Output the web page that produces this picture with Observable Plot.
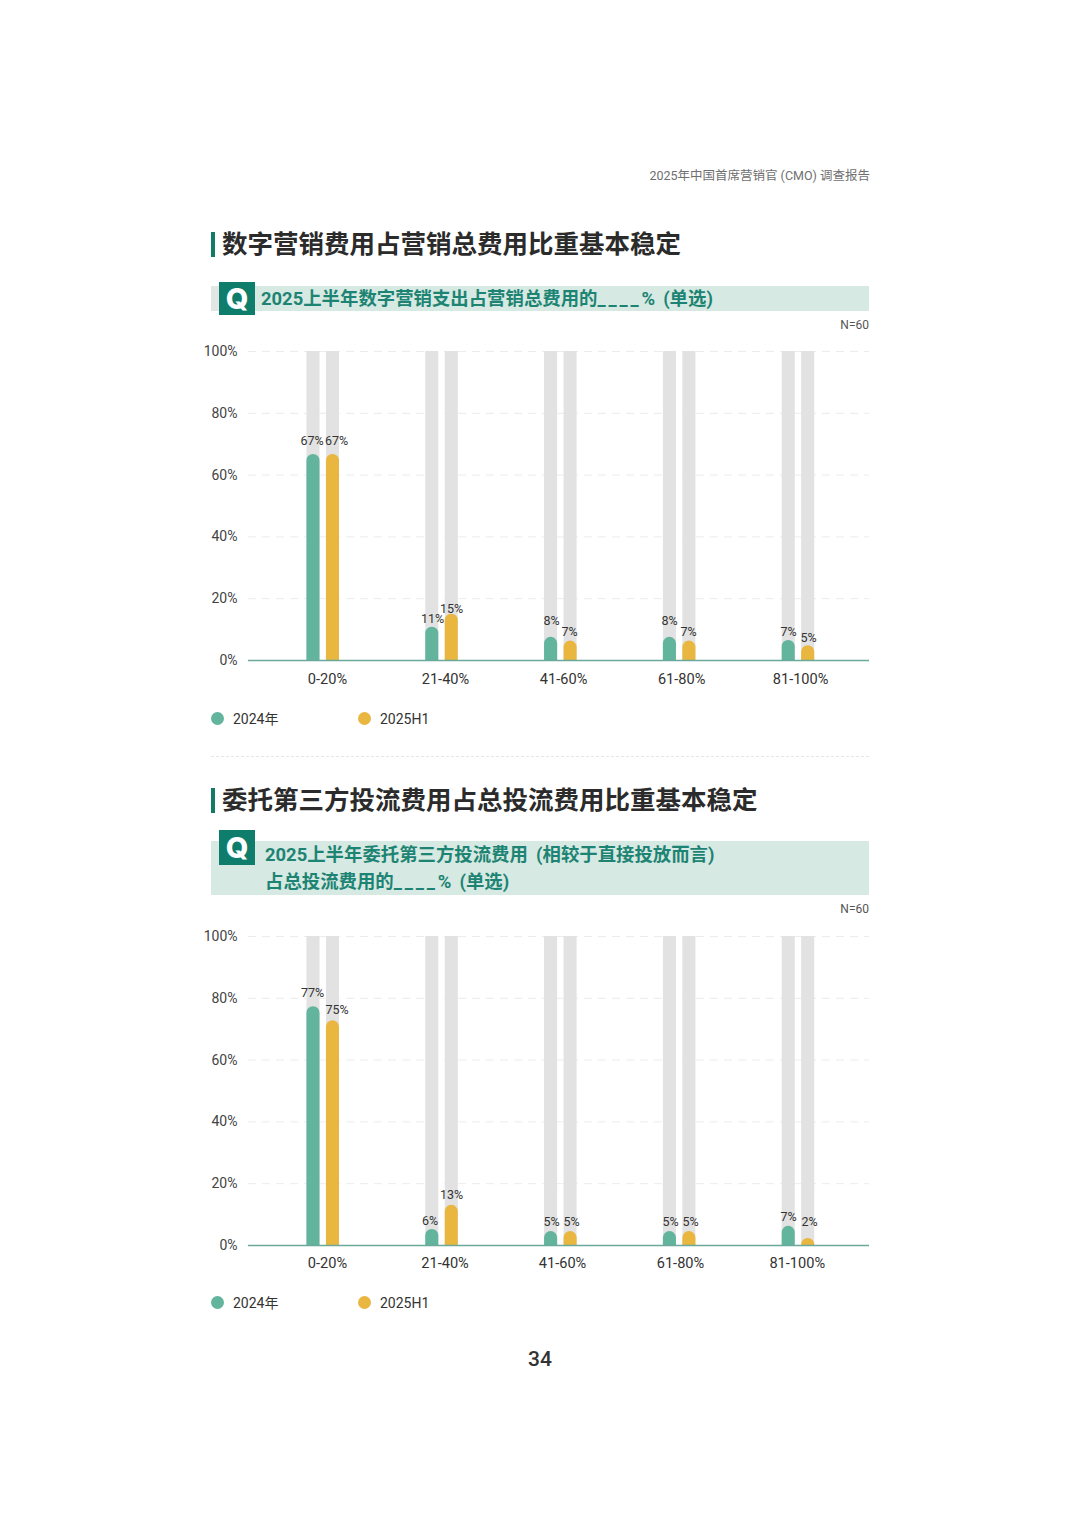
<!DOCTYPE html>
<html><head><meta charset="utf-8">
<script src="https://cdn.jsdelivr.net/npm/d3@7"></script>
<script src="https://cdn.jsdelivr.net/npm/@observablehq/plot@0.6"></script>
<style>
html,body{margin:0;padding:0;background:#fff}
#page{position:relative;width:1080px;height:1527px;overflow:hidden;font-family:Roboto,"Noto Sans CJK SC",sans-serif;color:#333}
#page>*{position:absolute}
.t{white-space:nowrap;line-height:1}
.title{left:222px;font:700 25.5px "Noto Sans CJK SC",sans-serif;color:#2b2b2b;white-space:nowrap;line-height:1}
.mark{left:211px;width:4px;background:#127a65}
.band{left:211px;width:658px;background:#d7e9e3}
.q{left:219px;width:36px;background:#0f7d6c;color:#fff;text-align:center;font:800 29px Inter,sans-serif}
.sub{font:700 18.4px Roboto,"Noto Sans CJK SC",sans-serif;color:#1d8473;white-space:nowrap;line-height:1;word-spacing:3.6px}
.sub span{letter-spacing:2.8px}
.n{right:211px;font-size:12px;color:#555;line-height:1}
.dot{width:13px;height:13px;border-radius:50%}
.lg{font-size:14px;color:#333;line-height:1;white-space:nowrap}
</style></head><body><div id="page"></div>
<script>
const categories = ["0-20%","21-40%","41-60%","61-80%","81-100%"];
const seriesNames = ["2024年","2025H1"];
const colors = ["#62b49c","#e9b63f"];
const yTicks = [0,20,40,60,80,100];

const title1 = "数字营销费用占营销总费用比重基本稳定";
const labels1a = [67,11,8,8,7];
const labels1b = [67,15,7,7,5];
const bars1a = [66.7,10.8,7.5,7.5,6.5];
const bars1b = [66.7,15,6.3,6.3,4.8];
const labelY1a = [70.9,13.3,12.9,12.9,9.1];
const labelY1b = [70.9,16.8,9.1,9.1,7.4];
const labelX1a = [-0.094,-0.08,-0.078,-0.085,-0.083];
const labelX1b = [0.112,0.08,0.073,0.075,0.085];
const catX1 = [0.036,1.029,2.023,3.017,4.018];

const title2 = "委托第三方投流费用占总投流费用比重基本稳定";
const labels2a = [77,6,5,5,7];
const labels2b = [75,13,5,5,2];
const bars2a = [77.3,5.2,4.5,4.5,6.2];
const bars2b = [72.7,13,4.5,4.5,2.3];
const labelY2a = [81.8,7.8,7.5,7.5,9.1];
const labelY2b = [76.3,16.2,7.5,7.5,7.5];
const labelX2a = [-0.09,-0.101,-0.078,-0.077,-0.083];
const labelX2b = [0.116,0.08,0.09,0.092,0.093];
const catX2 = [0.036,1.025,2.014,3.007,3.99];

const barOffset = 0.082, barHalf = 0.055;
const font = 'Roboto,"Noto Sans CJK SC",sans-serif';

function chart(labelsA,labelsB,barsA,barsB,lyA,lyB,lxA,lxB,catX,catPad){
  const rows = categories.flatMap((c,i)=>[
    {i,s:-1,bar:barsA[i],label:labelsA[i],ly:lyA[i],lx:i+lxA[i],c:colors[0]},
    {i,s:1,bar:barsB[i],label:labelsB[i],ly:lyB[i],lx:i+lxB[i],c:colors[1]}
  ]);
  const x1 = d=>d.i+d.s*barOffset-barHalf, x2 = d=>d.i+d.s*barOffset+barHalf;
  return Plot.plot({
    width:1080,height:370,marginLeft:248,marginRight:211,marginTop:20,marginBottom:41,
    style:{fontFamily:font,background:"transparent"},
    x:{domain:[-0.629,4.598]},
    y:{domain:[0,100]},
    marks:[
      Plot.ruleY(yTicks.filter(d=>d>0),{stroke:"#ececec",strokeDasharray:"8 6",strokeWidth:1}),
      Plot.rectY(rows,{x1,x2,y1:0,y2:100,fill:"#e2e2e2"}),
      Plot.rectY(rows,{x1,x2,y1:0,y2:"bar",fill:"c",rx1y2:6.5,rx2y2:6.5}),
      Plot.ruleY([0],{stroke:"#6aa99b",strokeWidth:1.6}),
      Plot.text(rows,{x:"lx",y:"ly",text:d=>d.label+"%",fontSize:12.5,fill:"#333"}),
      Plot.axisY({ticks:yTicks,tickSize:0,tickPadding:11,fontSize:14,tickFormat:d=>d+"%",label:null,fill:"#444"}),
      Plot.axisX({ticks:catX,tickSize:0,tickPadding:catPad,fontSize:14.6,label:null,fill:"#333",tickFormat:d=>categories[catX.indexOf(d)]})
    ]
  });
}

const page = document.getElementById("page");
function el(cls,css,text){const d=document.createElement("div");d.className=cls;d.style.cssText=css;if(text!=null)d.textContent=text;page.appendChild(d);return d;}

el("t","right:210px;top:170px;font-size:12.5px;color:#6f6f6f","2025年中国首席营销官 (CMO) 调查报告");

function subLine(s){
  const d=el("sub",`left:${s[1]}px;top:${s[2]}px`);
  s[0].split(/(_+)/).forEach(p=>{
    if(p.startsWith("_")){const sp=document.createElement("span");sp.textContent=p;d.appendChild(sp);}
    else d.appendChild(document.createTextNode(p));
  });
}
function block(o){
  el("mark",`top:${o.top}px;height:25px`);
  el("title",`top:${o.top-3}px`,o.title);
  el("band",`top:${o.bandTop}px;height:${o.bandH}px`);
  if(o.stub) el("",`left:211px;top:${o.bandTop}px;width:8px;height:${o.bandH}px;background:#e2e6e4`);
  el("q",`top:${o.qTop}px;height:${o.qH}px;line-height:${o.qH}px`,"Q");
  o.sub.forEach(subLine);
  el("n",`top:${o.nTop}px`,"N=60");
  const w=el("",`left:0;top:${o.svgTop}px`);
  w.appendChild(o.svg);
  [0,1].forEach(i=>{
    el("dot",`left:${[211,358][i]}px;top:${o.legTop}px;background:${colors[i]}`);
    el("lg",`left:${[233,380][i]}px;top:${o.legTop}px`,seriesNames[i]);
  });
}
block({top:232,title:title1,bandTop:286,bandH:25,qTop:282,qH:33,stub:true,
  sub:[["2025上半年数字营销支出占营销总费用的____% (单选)",261,290]],nTop:319,svgTop:331,legTop:712,
  svg:chart(labels1a,labels1b,bars1a,bars1b,labelY1a,labelY1b,labelX1a,labelX1b,catX1,13)});
el("",`left:211px;top:756px;width:658px;border-top:1px dashed #e6e6e6`);
block({top:788,title:title2,bandTop:841,bandH:54,qTop:830,qH:35,
  sub:[["2025上半年委托第三方投流费用 (相较于直接投放而言)",265,846],["占总投流费用的____% (单选)",265,873]],nTop:903,svgTop:916,legTop:1296,
  svg:chart(labels2a,labels2b,bars2a,bars2b,labelY2a,labelY2b,labelX2a,labelX2b,catX2,12)});
el("t","left:0;width:1080px;text-align:center;top:1349px;font-size:21px;font-weight:500;color:#333","34");
</script></body></html>
